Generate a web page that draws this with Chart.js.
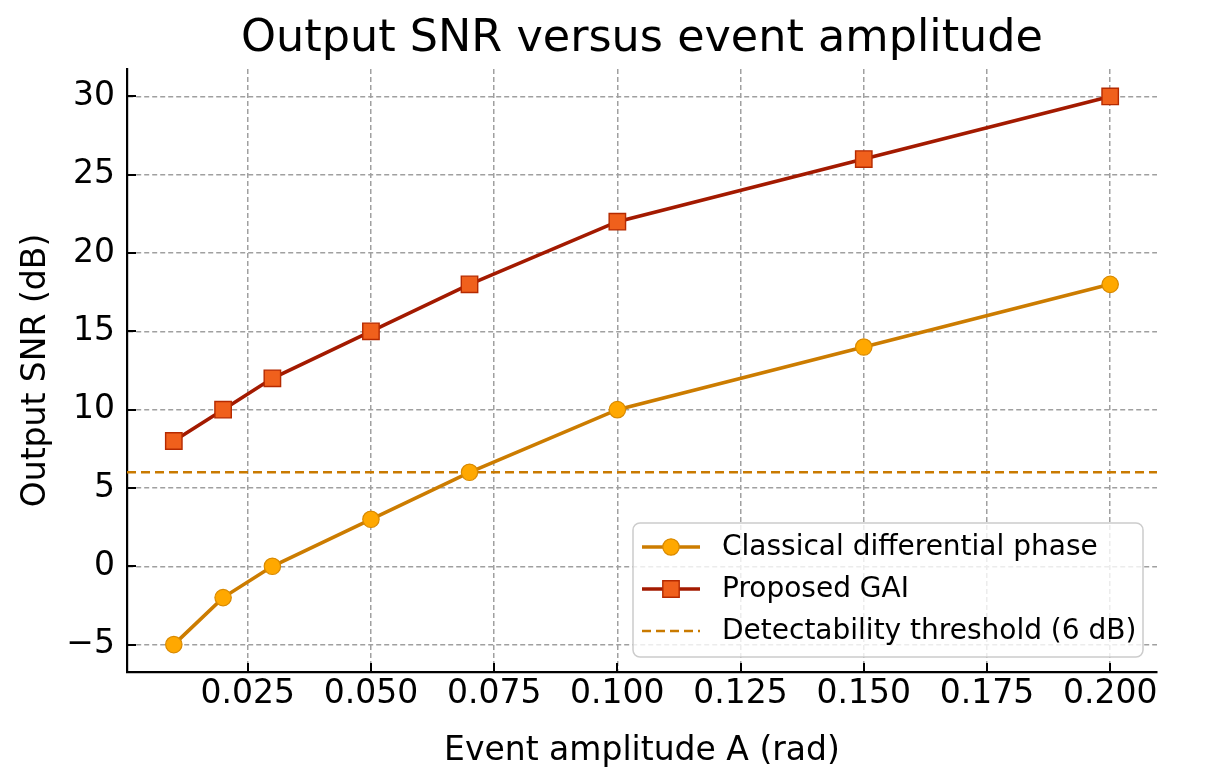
<!DOCTYPE html>
<html><head><meta charset="utf-8">
<script src="https://cdn.jsdelivr.net/npm/chart.js@4.4.1/dist/chart.umd.min.js"></script>
<style>html,body{margin:0;padding:0;background:#fff;} #wrap{width:1213px;height:778px;}</style>
</head><body><div id="wrap"><canvas id="c" width="1213" height="778"></canvas></div>
<script>
const amplitudes = [0.01, 0.02, 0.03, 0.05, 0.07, 0.10, 0.15, 0.20];
const classicalSNR = [-5, -2, 0, 3, 6, 10, 14, 18];
const proposedSNR = [8, 10, 12, 15, 18, 22, 26, 30];
const thresholdDB = 6;
const xTickValues = [0.025, 0.050, 0.075, 0.100, 0.125, 0.150, 0.175, 0.200];
const yTickValues = [-5, 0, 5, 10, 15, 20, 25, 30];
const xLimits = [0.0005, 0.2095];
const yLimits = [-6.75, 31.75];
const seriesLabels = ['Classical differential phase', 'Proposed GAI', 'Detectability threshold (6 dB)'];

const FONT = "'DejaVu Sans', sans-serif";
const C_CLASS_LINE = '#cc7c00', C_CLASS_FILL = '#ffa800', C_CLASS_EDGE = '#d98a00';
const C_PROP_LINE = '#a31a00', C_PROP_FILL = '#f0601c', C_PROP_EDGE = '#b52a00';
const C_THR = '#c97a00';

const toXY = (ys) => amplitudes.map((x, i) => ({x, y: ys[i]}));

const tickMarks = {
  id: 'tickMarks',
  beforeDatasetsDraw(chart) {
    const {ctx, chartArea: a, scales: {x, y}} = chart;
    ctx.save();
    ctx.strokeStyle = '#000';
    ctx.lineWidth = 2;
    ctx.beginPath();
    xTickValues.forEach(v => { const px = Math.round(x.getPixelForValue(v)) ; ctx.moveTo(px, a.bottom); ctx.lineTo(px, a.bottom - 9); });
    yTickValues.forEach(v => { const py = Math.round(y.getPixelForValue(v)); ctx.moveTo(a.left, py); ctx.lineTo(a.left + 9, py); });
    ctx.stroke();
    ctx.restore();
  }
};

const boxLegend = {
  id: 'boxLegend',
  afterDraw(chart) {
    const {ctx} = chart;
    const bx = 633, by = 523, bw = 510, bh = 134, r = 7;
    ctx.save();
    ctx.beginPath();
    ctx.roundRect(bx, by, bw, bh, r);
    ctx.fillStyle = 'rgba(255,255,255,0.8)';
    ctx.fill();
    ctx.lineWidth = 1.5;
    ctx.strokeStyle = '#cccccc';
    ctx.stroke();
    const rows = [547, 589, 631];
    const x0 = 642, x1 = 700, xm = 671, tx = 722;
    chart.data.datasets.forEach((ds, i) => {
      const yy = rows[i];
      ctx.save();
      ctx.strokeStyle = ds.borderColor;
      ctx.lineWidth = ds.borderWidth;
      ctx.setLineDash(ds.borderDash || []);
      ctx.beginPath(); ctx.moveTo(x0, yy); ctx.lineTo(x1, yy); ctx.stroke();
      ctx.restore();
      if (ds.pointRadius > 0) {
        ctx.fillStyle = ds.pointBackgroundColor;
        ctx.strokeStyle = ds.pointBorderColor;
        ctx.lineWidth = ds.pointBorderWidth;
        ctx.beginPath();
        if (ds.pointStyle === 'rect') {
          const s = Math.SQRT1_2 * ds.pointRadius;
          ctx.rect(xm - s, yy - s, 2 * s, 2 * s);
        } else {
          ctx.arc(xm, yy, ds.pointRadius, 0, Math.PI * 2);
        }
        ctx.fill(); ctx.stroke();
      }
      ctx.fillStyle = '#000';
      ctx.font = '28px ' + FONT;
      ctx.textAlign = 'left';
      ctx.textBaseline = 'middle';
      ctx.fillText(ds.label, tx, yy + 1);
    });
    ctx.restore();
  }
};

new Chart(document.getElementById('c'), {
  type: 'line',
  data: {
    datasets: [
      {
        label: seriesLabels[0], data: toXY(classicalSNR),
        borderColor: C_CLASS_LINE, borderWidth: 3.6,
        pointStyle: 'circle', pointRadius: 8.2, pointBackgroundColor: C_CLASS_FILL,
        pointBorderColor: C_CLASS_EDGE, pointBorderWidth: 1.2, tension: 0
      },
      {
        label: seriesLabels[1], data: toXY(proposedSNR),
        borderColor: C_PROP_LINE, borderWidth: 3.6,
        pointStyle: 'rect', pointRadius: 11.6, pointBackgroundColor: C_PROP_FILL,
        pointBorderColor: C_PROP_EDGE, pointBorderWidth: 1.4, tension: 0
      },
      {
        label: seriesLabels[2], data: [{x: xLimits[0], y: thresholdDB}, {x: xLimits[1], y: thresholdDB}],
        borderColor: C_THR, borderWidth: 2.6, borderDash: [9, 5],
        pointRadius: 0, tension: 0
      }
    ]
  },
  options: {
    responsive: false,
    devicePixelRatio: 1,
    animation: false,
    events: [],
    layout: {padding: {left: 0, right: 56, top: 0, bottom: 0}},
    plugins: {
      legend: {display: false},
      tooltip: {enabled: false},
      title: {
        display: true, fullSize: false, text: 'Output SNR versus event amplitude', color: '#000',
        font: {family: FONT, size: 44.5, weight: 'normal'},
        padding: {top: 13, bottom: 2.6}
      }
    },
    scales: {
      x: {
        type: 'linear', min: xLimits[0], max: xLimits[1],
        afterBuildTicks: (s) => { s.ticks = xTickValues.map(v => ({value: v})); },
        afterFit: (s) => { s.height = 106; },
        grid: {color: '#a0a0a0', lineWidth: 1.5, drawTicks: false},
        border: {display: true, color: '#000', width: 2.2, dash: [5, 3]},
        ticks: {color: '#000', font: {family: FONT, size: 33}, padding: 3, maxRotation: 0, autoSkip: false,
          callback: (v) => Number(v).toFixed(3)},
        title: {display: true, text: 'Event amplitude A (rad)', color: '#000',
          font: {family: FONT, size: 33}, padding: {top: 0, bottom: 7}}
      },
      y: {
        type: 'linear', min: yLimits[0], max: yLimits[1],
        afterBuildTicks: (s) => { s.ticks = yTickValues.map(v => ({value: v})); },
        afterFit: (s) => { s.width = 127; },
        grid: {color: '#a0a0a0', lineWidth: 1.5, drawTicks: false},
        border: {display: true, color: '#000', width: 2.2, dash: [5, 3]},
        ticks: {color: '#000', font: {family: FONT, size: 33}, padding: 12, autoSkip: false,
          callback: (v) => v < 0 ? '\u2212' + Math.abs(v) : String(v)},
        title: {display: true, text: 'Output SNR (dB)', color: '#000',
          font: {family: FONT, size: 33}, padding: {top: 17, bottom: 0}}
      }
    }
  },
  plugins: [tickMarks, boxLegend]
});
</script>
</body></html>
